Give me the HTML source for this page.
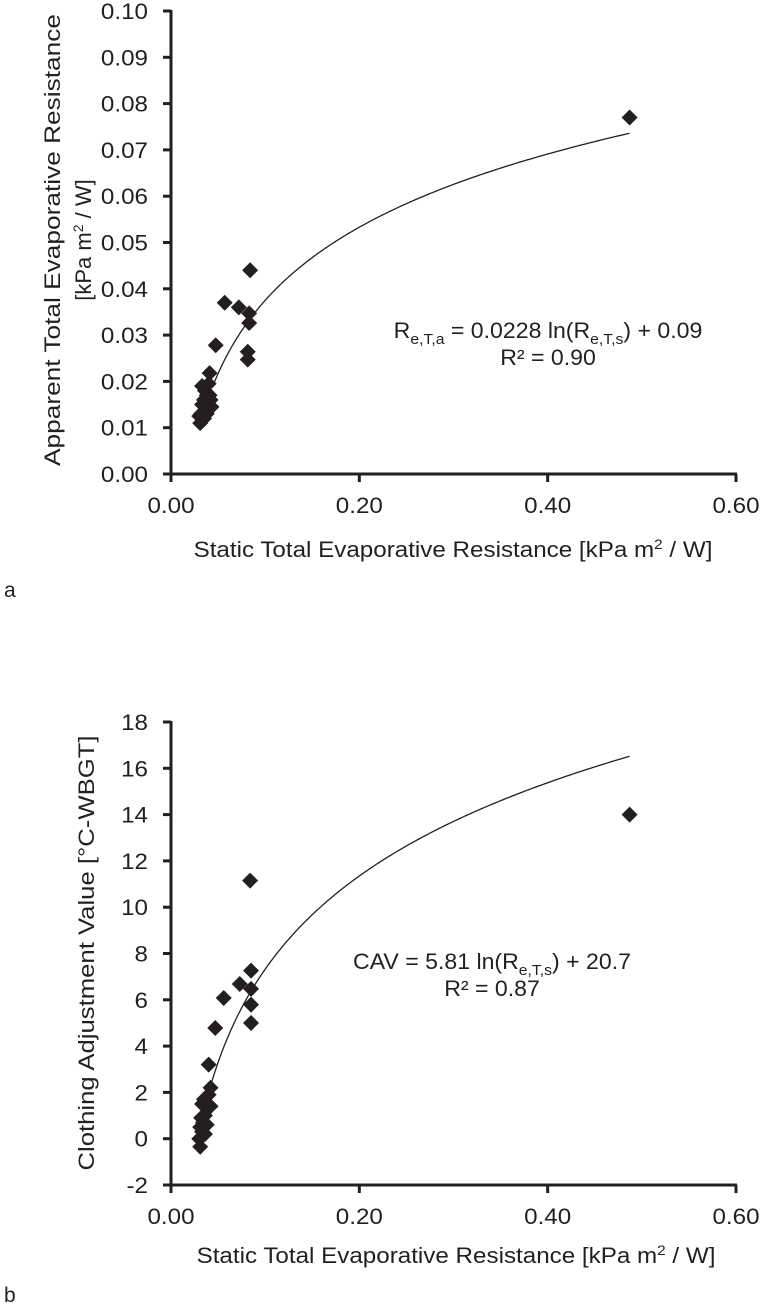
<!DOCTYPE html>
<html><head><meta charset="utf-8">
<style>
html,body{margin:0;padding:0;background:#fff;}
svg{display:block;font-family:"Liberation Sans",Arial,sans-serif;}
</style></head>
<body>
<svg id="fig" width="760" height="1305" viewBox="0 0 760 1305" xmlns="http://www.w3.org/2000/svg">
<g id="chartA"></g>
<g id="chartB"></g>
<text x="4" y="597" font-size="21" fill="#231f20">a</text>
<text x="4" y="1302" font-size="21" fill="#231f20">b</text>
</svg>
<script>
// Chart A data
const aX = [0.084,0.057,0.072,0.083,0.083,0.0475,0.0815,0.0815,0.041,0.487,
  0.033,0.036,0.038,0.040,0.042,0.035,0.033,0.040,0.037,0.043,0.032,0.035,0.030,0.031,0.038,0.041];
const aY = [0.044,0.037,0.036,0.0347,0.0326,0.0278,0.0264,0.0247,0.0218,0.077,
  0.019,0.018,0.017,0.0195,0.016,0.016,0.015,0.015,0.014,0.0145,0.013,0.012,0.0125,0.011,0.013,0.017];
const aFit = [0.0228, 0.09];
const aYTicks = ["0.00","0.01","0.02","0.03","0.04","0.05","0.06","0.07","0.08","0.09","0.10"];
const xTicks = ["0.00","0.20","0.40","0.60"];
// Chart B data
const bX = [0.084,0.085,0.073,0.085,0.085,0.056,0.047,0.085,0.040,0.487,
  0.031,0.030,0.033,0.031,0.034,0.032,0.036,0.038,0.042,0.033,0.035,0.040,0.042,0.038,0.036];
const bY = [11.15,7.26,6.68,6.47,5.79,6.08,4.78,5.0,3.2,14.0,
  -0.35,0.0,0.3,0.5,0.7,0.9,1.0,1.3,1.4,1.5,1.7,1.9,2.2,0.6,0.2];
const bFit = [5.81, 20.7];
const bYTicks = ["-2","0","2","4","6","8","10","12","14","16","18"];

const NS="http://www.w3.org/2000/svg";
const INK="#231f20";
function mk(parent,tag,attrs){const e=document.createElementNS(NS,tag);for(const k in attrs)e.setAttribute(k,attrs[k]);parent.appendChild(e);return e;}

function drawChart(g, o){
  const sx=v=>o.x0+(v-0)/(0.6)*(o.x1-o.x0);
  const sy=v=>o.y0-(v-o.ymin)/(o.ymax-o.ymin)*(o.y0-o.y1);
  const ya=mk(g,'line',{x1:o.x0,y1:o.y1-1,x2:o.x0,y2:o.y0+8,stroke:INK,'stroke-width':3});
  
  
  const xa=mk(g,'line',{x1:o.x0-8,y1:o.y0,x2:o.x1+1,y2:o.y0,stroke:INK,'stroke-width':3});
  
  
  o.yTicks.forEach(t=>{
    const y=sy(parseFloat(t));
    const tk=mk(g,'line',{x1:o.x0-8,y1:y,x2:o.x0,y2:y,stroke:INK,'stroke-width':3});
    
    
    const tx=mk(g,'text',{x:0,y:0,'font-size':22,fill:INK,'text-anchor':'end',transform:`translate(${o.x0-23},${y+8}) scale(1.1,1)`});
    tx.textContent=t;
    
    
  });
  xTicks.forEach(t=>{
    const x=sx(parseFloat(t));
    const tk=mk(g,'line',{x1:x,y1:o.y0,x2:x,y2:o.y0+8,stroke:INK,'stroke-width':3});
    
    
    const tx=mk(g,'text',{x:0,y:0,'font-size':22,fill:INK,'text-anchor':'middle',transform:`translate(${x},${o.y0+39}) scale(1.1,1)`});
    tx.textContent=t;
    
    
  });
  let d='';
  for(let i=0;i<=200;i++){const v=o.fx0+(0.487-o.fx0)*i/200;const yv=o.fit[0]*Math.log(v)+o.fit[1];d+=(i?'L':'M')+sx(v).toFixed(2)+','+sy(yv).toFixed(2);}
  const p=mk(g,'path',{d:d,fill:'none',stroke:INK,'stroke-width':1.3});
  
  
  o.xs.forEach((xv,i)=>{
    const cx=sx(xv),cy=sy(o.ys[i]),r=8;
    const pt=mk(g,'polygon',{points:`${cx},${cy-r} ${cx+r},${cy} ${cx},${cy+r} ${cx-r},${cy}`,fill:INK});
    
    
  });
}

const gA=document.getElementById('chartA');
drawChart(gA,{x0:171,x1:736,y0:474,y1:11,ymin:0,ymax:0.1,yTicks:aYTicks,xs:aX,ys:aY,fit:aFit,fx0:0.045});
const gB=document.getElementById('chartB');
drawChart(gB,{x0:171,x1:736,y0:1185,y1:722,ymin:-2,ymax:18,yTicks:bYTicks,xs:bX,ys:bY,fit:bFit,fx0:0.043});
</script>
<script>
const fig=document.getElementById('fig');
function T(html,attrs){const e=document.createElementNS(NS,'text');for(const k in attrs)e.setAttribute(k,attrs[k]);e.innerHTML=html;fig.appendChild(e);return e;}
let e;
e=T('Apparent Total Evaporative Resistance',{'font-size':22,fill:INK,'text-anchor':'middle',transform:'translate(60,240) rotate(-90)',textLength:452,lengthAdjust:'spacingAndGlyphs'});


e=T('[kPa m<tspan dy="-8" font-size="14">2</tspan><tspan dy="8"> / W]</tspan>',{'font-size':22,fill:INK,'text-anchor':'middle',transform:'translate(91,240) rotate(-90)'});


e=T('Static Total Evaporative Resistance [kPa m<tspan dy="-8" font-size="14">2</tspan><tspan dy="8"> / W]</tspan>',{'font-size':22,fill:INK,'text-anchor':'middle',transform:'translate(453,557) scale(1.1,1)'});


e=T('R<tspan dy="6" font-size="15">e,T,a</tspan><tspan dy="-6"> = 0.0228 ln(R</tspan><tspan dy="6" font-size="15">e,T,s</tspan><tspan dy="-6">) + 0.09</tspan>',{'font-size':22,fill:INK,'text-anchor':'middle',transform:'translate(548,338) scale(1.05,1)'});


e=T('R² = 0.90',{'font-size':22,fill:INK,'text-anchor':'middle',transform:'translate(548,365) scale(1.05,1)'});


e=T('Clothing Adjustment Value [°C-WBGT]',{'font-size':22,fill:INK,'text-anchor':'middle',transform:'translate(94,953) rotate(-90)',textLength:435,lengthAdjust:'spacingAndGlyphs'});


e=T('Static Total Evaporative Resistance [kPa m<tspan dy="-8" font-size="14">2</tspan><tspan dy="8"> / W]</tspan>',{'font-size':22,fill:INK,'text-anchor':'middle',transform:'translate(456,1263) scale(1.1,1)'});


e=T('CAV = 5.81 ln(R<tspan dy="6" font-size="15">e,T,s</tspan><tspan dy="-6">) + 20.7</tspan>',{'font-size':22,fill:INK,'text-anchor':'middle',transform:'translate(492,969) scale(1.05,1)'});


e=T('R² = 0.87',{'font-size':22,fill:INK,'text-anchor':'middle',transform:'translate(492,996) scale(1.05,1)'});


</script>
</body></html>
